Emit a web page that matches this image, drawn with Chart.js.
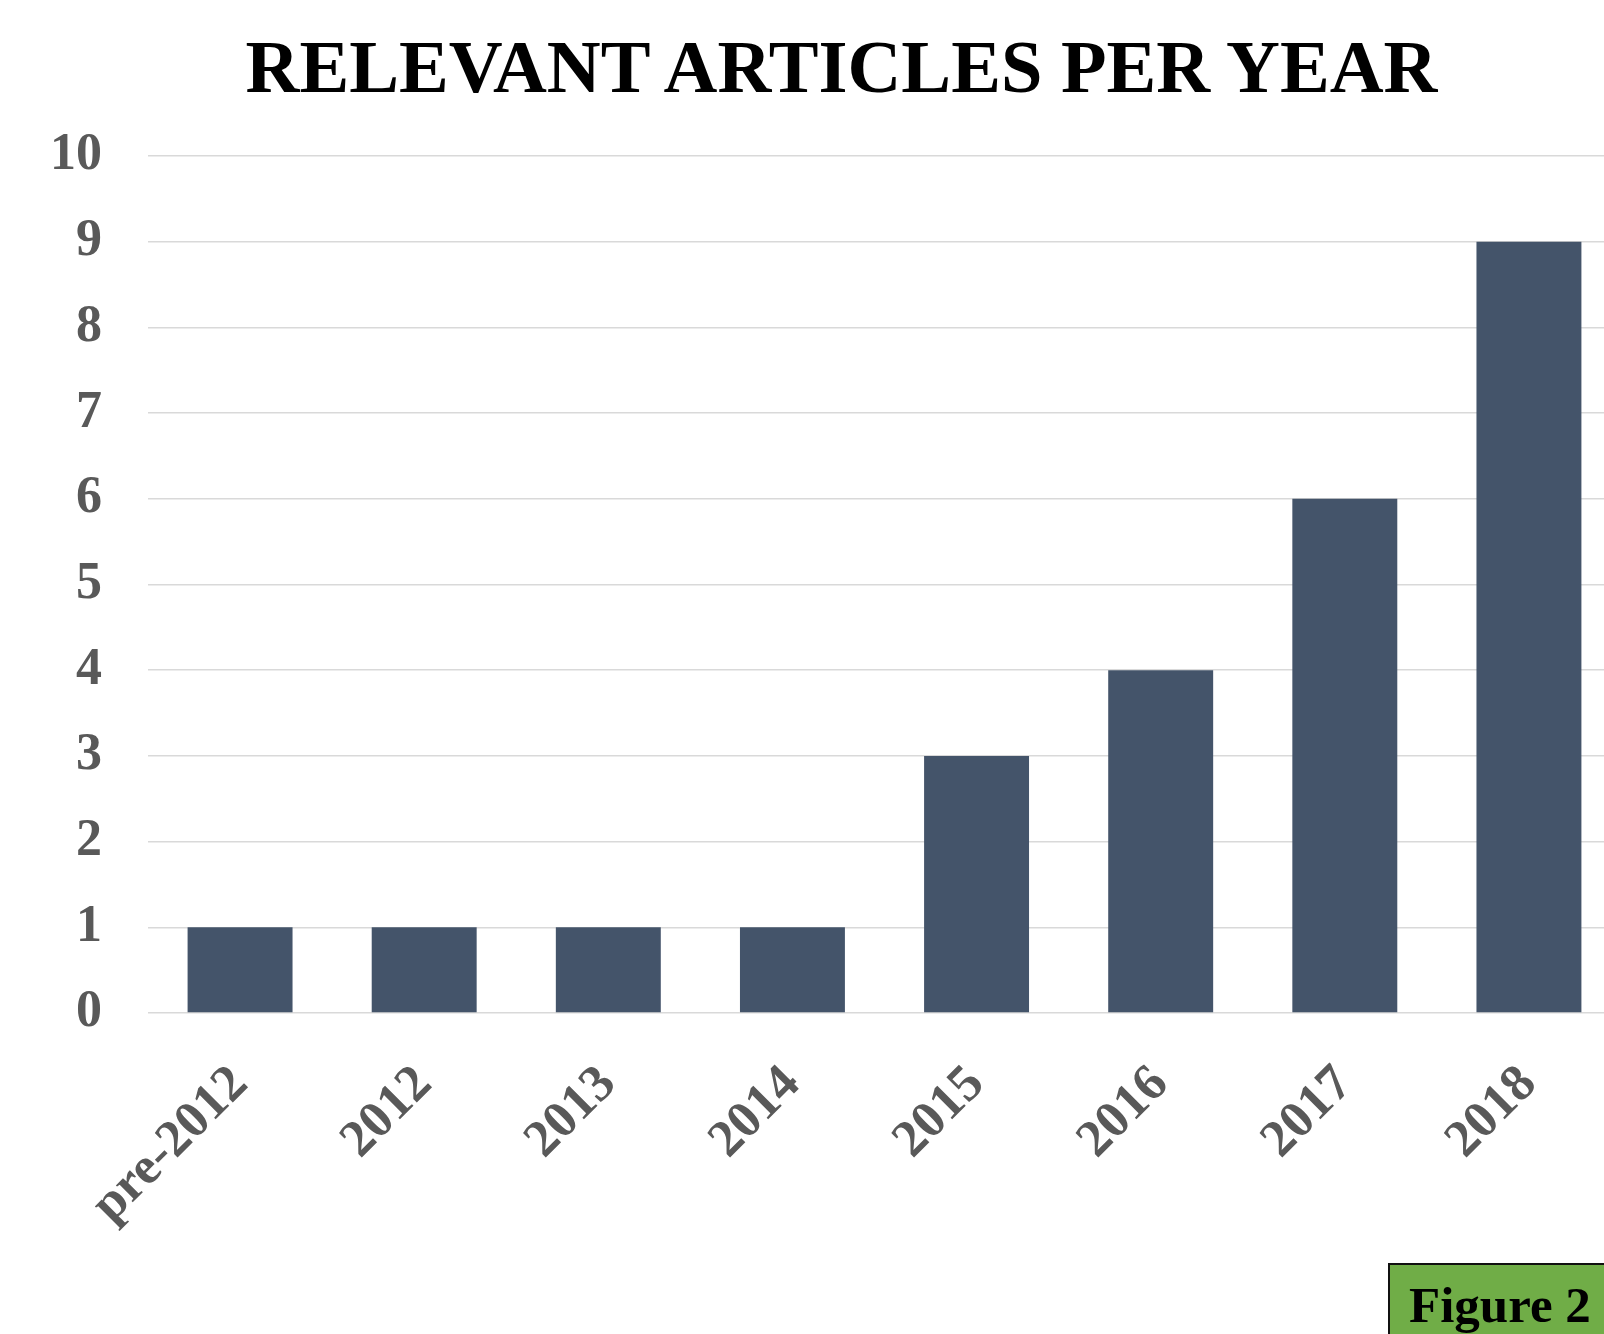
<!DOCTYPE html>
<html>
<head>
<meta charset="utf-8">
<script src="https://cdn.jsdelivr.net/npm/chart.js@4/dist/chart.umd.min.js"></script>
<style>
    html, body { margin: 0; padding: 0; background: #fff; overflow: hidden; }
    #wrap { position: relative; width: 1604px; height: 1334px; overflow: hidden; }
    #chart-articles { position: absolute; left: 0; top: 0; }
    #title {
        position: absolute; left: 0; top: 30px; width: 1683px;
        text-align: center; font: bold 74.6px/75px "Liberation Serif", "Times New Roman", serif;
        color: #000; white-space: nowrap;
    }
    #figure-tag {
        position: absolute; left: 1388px; top: 1263px; width: 260px; height: 120px;
        background: #70AD47; border: 2px solid #111; box-sizing: border-box;
        padding: 15px 0 0 19px;
        font: bold 51px/51px "Liberation Serif", "Times New Roman", serif; color: #000;
        white-space: nowrap;
    }
</style>
</head>
<body>
<div id="wrap">
    <canvas id="chart-articles" width="1640" height="1334"></canvas>
    <div id="title">RELEVANT ARTICLES PER YEAR</div>
    <div id="figure-tag">Figure 2</div>
</div>
<script>
    const years = ['pre-2012', '2012', '2013', '2014', '2015', '2016', '2017', '2018'];
    const articleCounts = [1, 1, 1, 1, 3, 4, 6, 9];
    const yTicks = [0, 1, 2, 3, 4, 5, 6, 7, 8, 9, 10];

    const labelFont = { family: '"Liberation Serif", "Times New Roman", serif', size: 52, weight: 'bold' };

    new Chart(document.getElementById('chart-articles'), {
        type: 'bar',
        data: {
            labels: years,
            datasets: [
                {
                    label: 'Relevant articles',
                    data: articleCounts,
                    backgroundColor: '#44546A',
                    borderWidth: 0,
                    barPercentage: 0.57,
                    categoryPercentage: 1
                }
            ]
        },
        options: {
            responsive: false,
            animation: false,
            devicePixelRatio: 1,
            layout: {
                padding: { top: 156, right: 19, bottom: 0, left: 0 }
            },
            scales: {
                x: {
                    grid: { display: false },
                    border: { display: false },
                    ticks: {
                        color: '#595959',
                        font: labelFont,
                        minRotation: 45,
                        maxRotation: 45,
                        padding: 33,
                        autoSkip: false
                    },
                    afterFit: (axis) => { axis.height = 321; }
                },
                y: {
                    min: yTicks[0],
                    max: yTicks[yTicks.length - 1],
                    afterBuildTicks: (axis) => { axis.ticks = yTicks.map(v => ({ value: v })); },
                    grid: { color: '#D9D9D9', lineWidth: 1.5, drawTicks: false },
                    border: { display: false },
                    ticks: {
                        color: '#595959',
                        font: labelFont,
                        padding: 46
                    },
                    afterFit: (axis) => { axis.width = 148; }
                }
            },
            plugins: {
                legend: { display: false },
                tooltip: { enabled: false },
                title: { display: false }
            }
        }
    });
</script>
</body>
</html>
